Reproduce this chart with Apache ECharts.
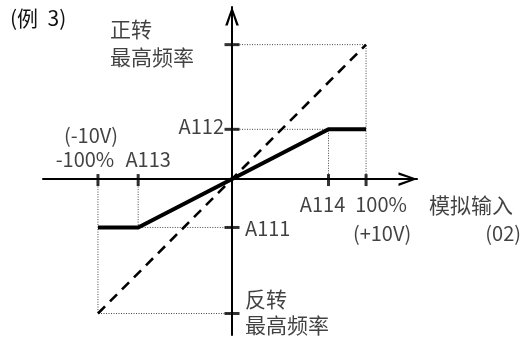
<!DOCTYPE html>
<html>
<head>
<meta charset="utf-8">
<script src="https://cdn.jsdelivr.net/npm/echarts@6/dist/echarts.min.js"></script>
<style>
  html, body { margin: 0; padding: 0; background: #fff; }
  #chart { width: 526px; height: 338px; }
</style>
</head>
<body>
<div id="chart"></div>
<script>
  // 模拟输入 (%) -> 输出频率 (%)
  var A113 = -70, A111 = -36
  var A114 = 72, A112 = 37
  var inputTicks = [-100, A113, A114, 100]
  var outputTicks = [100, A112, A111, -100]
  var inputLabels = ['-100%', 'A113', 'A114', '100%']
  var voltLabels = ['(-10V)', '(+10V)']
  var outputLabels = ['正转\n最高频率', 'A112', 'A111', '反转\n最高频率']
  var xName = '模拟输入'
  var xNameSub = '(02)'
  var title = '(例  3)'
  var limitLine = [[-100, A111], [A113, A111], [A114, A112], [100, A112]]
  var maxFreqLine = [[-100, -100], [100, 100]]
  var guideLines = [
    [[0, 100], [100, 100], [100, 0]],
    [[0, A112], [A114, A112], [A114, 0]],
    [[-100, 0], [-100, -100], [0, -100]],
    [[A113, 0], [A113, A111], [0, A111]]
  ]

  var font = '"Noto Sans CJK SC", sans-serif'
  var arrow = 'path://M6.5,0 L13,18 L10.6,18 L6.5,5.4 L2.4,18 L0,18 Z'

  // latin labels a bit smaller so widths match the narrow original face
  function mark(x, y, text, dx, dy, align, size, lh) {
    return {
      value: [x, y],
      label: {
        formatter: text, offset: [dx, dy], align: align || 'center',
        fontSize: size || 20, lineHeight: lh || 24
      }
    }
  }

  var labelData = [
    mark(inputTicks[0], 0, inputLabels[0], -13, -20),
    mark(inputTicks[0], 0, voltLabels[0], -7, -44),
    mark(inputTicks[1], 0, inputLabels[1], 10, -20),
    mark(inputTicks[2], 0, inputLabels[2], -6, 25),
    mark(inputTicks[3], 0, inputLabels[3], 15, 25),
    mark(inputTicks[3], 0, voltLabels[1], 16, 54),
    mark(inputTicks[3], 0, xName, 63, 26, 'left', 21),
    mark(inputTicks[3], 0, xNameSub, 155, 54, 'right'),
    mark(0, outputTicks[0], outputLabels[0], -122, -1.5, 'left', 21, 28),
    mark(0, outputTicks[1], outputLabels[1], -8, -2.5, 'right'),
    mark(0, outputTicks[2], outputLabels[2], 13, 1, 'left'),
    mark(0, outputTicks[3], outputLabels[3], 13, -1.5, 'left', 21, 26)
  ]

  var series = []
  guideLines.forEach(function (seg) {
    series.push({
      type: 'line', data: seg, symbol: 'none', silent: true, z: 1,
      lineStyle: { color: '#444', width: 1, type: [1, 1.5] }
    })
  })
  series.push({
    type: 'line', data: maxFreqLine, symbol: 'none', silent: true, z: 2,
    lineStyle: { color: '#000', width: 2.6, type: [10, 7] }
  })
  series.push({
    type: 'line', data: limitLine, symbol: 'none', silent: true, z: 3,
    lineStyle: { color: '#000', width: 4, join: 'miter' }
  })
  series.push({
    type: 'scatter', silent: true, z: 4, symbol: 'rect', symbolSize: [3, 12], symbolOffset: [0, 1],
    itemStyle: { color: '#000' },
    data: inputTicks.map(function (v) { return [v, 0] })
  })
  series.push({
    type: 'scatter', silent: true, z: 4, symbol: 'rect', symbolSize: [15, 3],
    itemStyle: { color: '#000' },
    data: outputTicks.map(function (v) { return [0, v] })
  })
  series.push({
    type: 'scatter', silent: true, z: 5, symbolSize: 0,
    label: {
      show: true, position: 'inside', verticalAlign: 'middle',
      color: '#111', fontFamily: font
    },
    data: labelData
  })

  var chart = echarts.init(document.getElementById('chart'))
  chart.setOption({
    animation: false,
    backgroundColor: '#fff',
    grid: { left: 43, right: 109, top: 7, bottom: 3 },
    graphic: [{
      type: 'text', left: 10, top: 8,
      style: { text: title, fill: '#111', font: '21px ' + font }
    }],
    xAxis: {
      type: 'value', min: -141, max: 138,
      axisLine: {
        onZero: true, symbol: ['none', arrow], symbolSize: [14, 19], symbolOffset: [0, -9],
        lineStyle: { color: '#000', width: 2 }
      },
      axisTick: { show: false }, axisLabel: { show: false }, splitLine: { show: false }
    },
    yAxis: {
      type: 'value', min: -116, max: 128,
      axisLine: {
        onZero: true, symbol: ['none', arrow], symbolSize: [14, 19], symbolOffset: [0, -9],
        lineStyle: { color: '#000', width: 2 }
      },
      axisTick: { show: false }, axisLabel: { show: false }, splitLine: { show: false }
    },
    series: series
  })
</script>
</body>
</html>
